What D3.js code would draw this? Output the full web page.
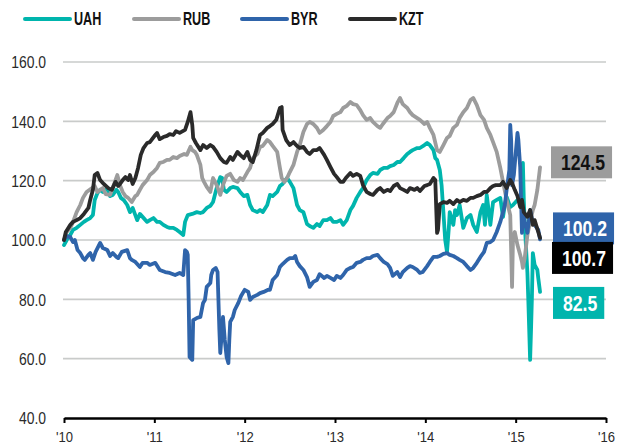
<!DOCTYPE html>
<html>
<head>
    <title>Currency index</title>
    <script src="https://d3js.org/d3.v7.min.js"></script>
    <style>
        body {
            margin: 0;
            background: #fff;
        }
        svg text {
            font-family: "Liberation Sans", Arial, sans-serif;
        }
        .grid line {
            stroke: #c9cbca;
            stroke-width: 1.6px;
        }
        .legend text {
            font-size: 18px;
            font-weight: bold;
            fill: #111;
        }
        .series {
            fill: none;
            stroke-width: 3.8px;
            stroke-linejoin: round;
            stroke-linecap: round;
        }
        .end-label text {
            font-size: 22px;
            font-weight: bold;
        }
    </style>
</head>
<body>
<div id="chart"></div>
<script>
// legend / series names
const currencies = ['UAH', 'RUB', 'BYR', 'KZT'];
const colors = ['#00b5ad', '#9c9c9c', '#2f64aa', '#2a2a2a'];

const yTicks = [40, 60, 80, 100, 120, 140, 160];
const xTicks = [2010, 2011, 2012, 2013, 2014, 2015, 2016];
const xTickLabels = ["'10", "'11", "'12", "'13", "'14", "'15", "'16"];

// [year, index value]
const uahData = [
    [2010.00, 98.3], [2010.03, 100.0], [2010.07, 101.7], [2010.10, 103.4], [2010.14, 104.1],
    [2010.18, 105.1], [2010.22, 106.1], [2010.25, 106.7], [2010.29, 107.4], [2010.32, 108.4],
    [2010.34, 113.5], [2010.37, 115.8], [2010.40, 116.9], [2010.43, 116.2], [2010.48, 117.5],
    [2010.51, 114.8], [2010.54, 115.2], [2010.58, 116.9], [2010.60, 116.2], [2010.63, 114.2],
    [2010.66, 113.5], [2010.70, 111.8], [2010.73, 109.4], [2010.76, 110.8], [2010.81, 106.7],
    [2010.84, 108.8], [2010.87, 107.8], [2010.92, 106.1], [2010.95, 106.7], [2010.99, 107.4],
    [2011.03, 106.1], [2011.06, 106.1], [2011.10, 105.1], [2011.14, 104.4], [2011.17, 104.1],
    [2011.21, 104.1], [2011.25, 103.4], [2011.28, 102.7], [2011.32, 101.7], [2011.34, 106.1],
    [2011.37, 108.4], [2011.42, 108.8], [2011.47, 109.4], [2011.51, 109.1], [2011.54, 109.4],
    [2011.58, 110.8], [2011.62, 111.5], [2011.65, 112.8], [2011.69, 117.5], [2011.73, 121.2],
    [2011.75, 120.9], [2011.77, 116.9], [2011.80, 116.2], [2011.84, 117.5], [2011.87, 117.9],
    [2011.92, 117.5], [2011.95, 116.2], [2011.99, 114.8], [2012.03, 115.2], [2012.06, 111.8],
    [2012.09, 110.1], [2012.14, 109.4], [2012.17, 110.1], [2012.20, 109.4], [2012.25, 111.8],
    [2012.28, 115.2], [2012.31, 114.8], [2012.36, 116.2], [2012.39, 118.2], [2012.42, 118.9],
    [2012.47, 120.9], [2012.50, 119.6], [2012.54, 117.5], [2012.58, 111.8], [2012.61, 110.1],
    [2012.65, 109.4], [2012.69, 105.4], [2012.72, 104.7], [2012.76, 104.1], [2012.80, 105.4],
    [2012.83, 104.7], [2012.87, 106.7], [2012.91, 106.7], [2012.95, 107.4], [2012.98, 106.1],
    [2013.02, 106.1], [2013.06, 106.7], [2013.09, 105.1], [2013.13, 106.7], [2013.17, 110.1],
    [2013.20, 111.5], [2013.24, 114.2], [2013.28, 116.2], [2013.31, 117.5], [2013.35, 120.2],
    [2013.39, 121.9], [2013.42, 122.6], [2013.47, 122.3], [2013.50, 123.6], [2013.54, 124.3],
    [2013.58, 124.3], [2013.61, 124.9], [2013.65, 125.3], [2013.69, 126.3], [2013.72, 126.3],
    [2013.76, 127.6], [2013.80, 129.0], [2013.83, 129.7], [2013.86, 130.3], [2013.91, 131.0],
    [2013.94, 131.0], [2013.99, 132.0], [2014.02, 132.7], [2014.05, 132.0], [2014.09, 130.3],
    [2014.11, 127.6], [2014.13, 127.0], [2014.16, 123.6], [2014.18, 118.5], [2014.20, 109.4],
    [2014.22, 100.0], [2014.24, 96.0], [2014.26, 104.1], [2014.27, 109.4], [2014.31, 105.1],
    [2014.33, 110.1], [2014.35, 108.4], [2014.38, 111.8], [2014.42, 104.1], [2014.46, 107.4],
    [2014.50, 108.4], [2014.53, 105.1], [2014.57, 102.7], [2014.61, 109.4], [2014.64, 111.8],
    [2014.66, 105.1], [2014.68, 115.2], [2014.72, 105.1], [2014.75, 112.8], [2014.79, 113.5],
    [2014.83, 114.2], [2014.86, 107.8], [2014.88, 111.8], [2014.90, 114.5], [2014.94, 111.1],
    [2014.97, 111.8], [2015.02, 113.5], [2015.05, 113.5], [2015.07, 116.9], [2015.08, 126.0],
    [2015.09, 113.5], [2015.10, 105.7], [2015.13, 88.9], [2015.14, 79.8], [2015.16, 59.6],
    [2015.17, 69.7], [2015.18, 80.8], [2015.19, 95.6], [2015.21, 91.6], [2015.24, 89.9],
    [2015.25, 87.2], [2015.27, 82.5]
];

const rubData = [
    [2010.00, 100.0], [2010.03, 102.7], [2010.07, 104.1], [2010.10, 106.1], [2010.14, 109.4],
    [2010.18, 111.8], [2010.21, 114.2], [2010.25, 116.2], [2010.31, 117.5], [2010.34, 118.2],
    [2010.37, 116.2], [2010.40, 116.9], [2010.43, 117.5], [2010.46, 115.5], [2010.51, 115.2],
    [2010.55, 118.5], [2010.59, 121.9], [2010.62, 118.5], [2010.65, 116.2], [2010.68, 114.8],
    [2010.71, 114.2], [2010.75, 112.8], [2010.79, 114.8], [2010.81, 115.2], [2010.84, 116.9],
    [2010.87, 118.5], [2010.92, 120.2], [2010.95, 121.9], [2010.99, 122.9], [2011.03, 124.3],
    [2011.06, 126.0], [2011.10, 126.3], [2011.14, 127.0], [2011.17, 127.0], [2011.21, 128.0],
    [2011.25, 127.6], [2011.28, 128.3], [2011.33, 129.0], [2011.36, 128.7], [2011.40, 131.4],
    [2011.42, 130.3], [2011.45, 129.7], [2011.47, 128.7], [2011.51, 125.3], [2011.53, 120.9],
    [2011.55, 119.6], [2011.58, 117.9], [2011.62, 116.2], [2011.65, 120.9], [2011.69, 118.5],
    [2011.73, 115.2], [2011.76, 118.5], [2011.80, 121.6], [2011.84, 122.3], [2011.88, 120.2],
    [2011.92, 119.6], [2011.95, 120.9], [2011.98, 120.2], [2012.03, 122.9], [2012.06, 124.3],
    [2012.09, 127.6], [2012.14, 129.0], [2012.17, 131.4], [2012.20, 131.7], [2012.25, 133.7],
    [2012.28, 133.0], [2012.31, 131.7], [2012.36, 129.7], [2012.39, 124.3], [2012.41, 120.9],
    [2012.44, 119.6], [2012.47, 120.9], [2012.50, 122.9], [2012.54, 125.3], [2012.58, 129.7],
    [2012.61, 132.0], [2012.65, 136.4], [2012.69, 139.1], [2012.72, 139.8], [2012.76, 139.1],
    [2012.80, 137.8], [2012.83, 136.1], [2012.87, 137.1], [2012.91, 138.4], [2012.95, 139.8],
    [2012.98, 141.8], [2013.02, 142.5], [2013.06, 143.1], [2013.09, 144.5], [2013.13, 145.2],
    [2013.17, 146.5], [2013.20, 145.8], [2013.24, 145.5], [2013.28, 143.8], [2013.31, 142.1],
    [2013.35, 140.5], [2013.39, 141.1], [2013.42, 139.8], [2013.47, 138.4], [2013.50, 137.8],
    [2013.53, 139.1], [2013.58, 141.1], [2013.61, 141.8], [2013.65, 143.1], [2013.69, 146.2],
    [2013.72, 147.9], [2013.75, 145.8], [2013.80, 144.5], [2013.83, 143.1], [2013.86, 142.1],
    [2013.91, 141.1], [2013.94, 140.5], [2013.99, 139.1], [2014.02, 139.8], [2014.05, 137.8],
    [2014.09, 135.4], [2014.13, 130.3], [2014.16, 129.7], [2014.20, 132.0], [2014.24, 134.4],
    [2014.27, 135.1], [2014.31, 137.8], [2014.35, 138.8], [2014.38, 141.1], [2014.42, 143.1],
    [2014.46, 144.5], [2014.50, 147.2], [2014.53, 147.9], [2014.57, 145.5], [2014.61, 142.1],
    [2014.65, 140.5], [2014.68, 137.8], [2014.72, 135.4], [2014.75, 133.0], [2014.79, 129.7],
    [2014.83, 124.3], [2014.86, 119.6], [2014.90, 113.5], [2014.94, 108.4], [2014.95, 96.6],
    [2014.96, 84.2], [2014.97, 100.0], [2014.99, 102.7], [2015.02, 98.3], [2015.05, 95.0],
    [2015.07, 92.6], [2015.08, 90.6], [2015.10, 93.9], [2015.13, 101.7], [2015.16, 106.1],
    [2015.19, 110.1], [2015.21, 111.8], [2015.24, 116.9], [2015.26, 121.9], [2015.27, 124.5]
];

const byrData = [
    [2010.00, 100.0], [2010.03, 101.3], [2010.07, 101.0], [2010.10, 99.3], [2010.12, 100.0],
    [2010.15, 96.6], [2010.18, 95.6], [2010.21, 93.9], [2010.23, 93.3], [2010.27, 95.0],
    [2010.29, 95.6], [2010.32, 93.3], [2010.35, 96.0], [2010.40, 99.0], [2010.43, 97.3],
    [2010.48, 96.6], [2010.51, 94.6], [2010.54, 95.6], [2010.58, 94.3], [2010.60, 93.9],
    [2010.64, 96.0], [2010.70, 96.6], [2010.73, 93.9], [2010.75, 93.3], [2010.79, 92.6],
    [2010.84, 90.9], [2010.87, 92.3], [2010.92, 92.3], [2010.95, 91.6], [2011.01, 92.3],
    [2011.06, 89.9], [2011.12, 89.2], [2011.17, 88.9], [2011.23, 88.2], [2011.28, 88.9],
    [2011.32, 88.2], [2011.34, 96.6], [2011.36, 96.0], [2011.37, 95.0], [2011.38, 79.8],
    [2011.39, 60.6], [2011.42, 59.6], [2011.43, 73.0], [2011.47, 73.7], [2011.51, 74.1],
    [2011.54, 78.8], [2011.56, 79.8], [2011.58, 84.2], [2011.62, 85.5], [2011.63, 88.2],
    [2011.65, 89.9], [2011.68, 90.6], [2011.70, 89.2], [2011.72, 69.7], [2011.73, 61.9],
    [2011.75, 69.7], [2011.76, 74.1], [2011.78, 66.3], [2011.80, 60.6], [2011.82, 58.5],
    [2011.83, 66.3], [2011.84, 72.4], [2011.87, 74.1], [2011.89, 76.4], [2011.93, 78.8],
    [2011.96, 81.1], [2012.00, 83.2], [2012.04, 82.5], [2012.06, 79.8], [2012.09, 80.8],
    [2012.14, 81.5], [2012.17, 82.1], [2012.21, 82.5], [2012.26, 83.2], [2012.28, 83.2],
    [2012.31, 86.5], [2012.36, 88.2], [2012.39, 90.9], [2012.42, 91.9], [2012.47, 93.3],
    [2012.50, 93.9], [2012.54, 93.9], [2012.56, 94.6], [2012.58, 92.6], [2012.61, 91.2],
    [2012.65, 89.9], [2012.69, 87.5], [2012.72, 84.2], [2012.76, 85.9], [2012.80, 86.5],
    [2012.83, 88.5], [2012.88, 87.2], [2012.91, 87.9], [2012.95, 87.2], [2012.99, 86.5],
    [2013.02, 87.9], [2013.06, 87.2], [2013.09, 88.2], [2013.13, 89.9], [2013.17, 90.6],
    [2013.20, 90.9], [2013.24, 92.3], [2013.28, 92.6], [2013.31, 93.3], [2013.35, 93.9],
    [2013.39, 93.9], [2013.42, 94.6], [2013.47, 95.0], [2013.50, 93.9], [2013.54, 92.6],
    [2013.58, 91.9], [2013.61, 90.6], [2013.64, 87.9], [2013.69, 89.2], [2013.72, 87.5],
    [2013.75, 89.2], [2013.80, 90.6], [2013.83, 91.2], [2013.86, 90.9], [2013.91, 89.9],
    [2013.94, 88.9], [2013.97, 89.2], [2014.02, 91.2], [2014.05, 92.6], [2014.09, 94.3],
    [2014.13, 94.3], [2014.16, 94.6], [2014.20, 95.3], [2014.24, 95.6], [2014.27, 95.0],
    [2014.31, 94.6], [2014.35, 93.9], [2014.38, 93.3], [2014.42, 92.6], [2014.46, 91.2],
    [2014.50, 89.9], [2014.53, 90.6], [2014.57, 92.3], [2014.61, 94.3], [2014.65, 96.0],
    [2014.68, 99.0], [2014.72, 99.3], [2014.75, 100.0], [2014.79, 102.7], [2014.83, 106.1],
    [2014.86, 109.4], [2014.88, 111.8], [2014.90, 116.9], [2014.93, 123.6], [2014.94, 138.8],
    [2014.95, 133.7], [2014.96, 118.5], [2014.98, 121.9], [2015.02, 136.1], [2015.03, 133.7],
    [2015.05, 124.6], [2015.07, 102.4], [2015.08, 110.1], [2015.10, 106.1], [2015.13, 102.4],
    [2015.16, 110.1], [2015.19, 105.7], [2015.21, 105.1], [2015.25, 103.4], [2015.27, 100.2]
];

const kztData = [
    [2010.00, 100.0], [2010.02, 102.7], [2010.07, 105.1], [2010.10, 106.1], [2010.14, 106.7],
    [2010.18, 107.4], [2010.22, 108.8], [2010.27, 110.8], [2010.29, 113.5], [2010.32, 116.9],
    [2010.34, 121.9], [2010.37, 122.6], [2010.40, 120.2], [2010.44, 118.9], [2010.49, 117.5],
    [2010.53, 116.9], [2010.57, 119.6], [2010.60, 118.2], [2010.62, 118.9], [2010.65, 120.2],
    [2010.68, 121.2], [2010.71, 120.2], [2010.73, 121.9], [2010.76, 118.9], [2010.79, 120.9],
    [2010.82, 124.3], [2010.85, 128.7], [2010.88, 131.0], [2010.92, 132.7], [2010.95, 133.0],
    [2011.01, 135.4], [2011.03, 136.1], [2011.06, 134.0], [2011.10, 134.7], [2011.14, 135.1],
    [2011.17, 135.7], [2011.21, 135.4], [2011.24, 136.7], [2011.28, 136.1], [2011.34, 137.1],
    [2011.37, 139.8], [2011.40, 143.1], [2011.42, 138.8], [2011.43, 134.4], [2011.46, 132.7],
    [2011.51, 130.3], [2011.54, 132.0], [2011.58, 131.0], [2011.62, 132.0], [2011.65, 131.4],
    [2011.69, 129.7], [2011.73, 127.6], [2011.77, 126.3], [2011.80, 126.0], [2011.84, 128.0],
    [2011.87, 127.0], [2011.92, 129.7], [2011.95, 128.7], [2011.99, 127.6], [2012.03, 129.7],
    [2012.06, 127.0], [2012.09, 126.3], [2012.13, 130.3], [2012.17, 135.4], [2012.20, 136.1],
    [2012.25, 137.8], [2012.28, 138.4], [2012.31, 139.1], [2012.35, 140.5], [2012.39, 144.5],
    [2012.41, 144.8], [2012.42, 137.1], [2012.46, 133.7], [2012.50, 132.0], [2012.54, 133.0],
    [2012.58, 131.7], [2012.61, 131.0], [2012.65, 131.4], [2012.69, 129.7], [2012.72, 129.0],
    [2012.76, 130.3], [2012.80, 130.3], [2012.83, 131.0], [2012.88, 128.7], [2012.91, 127.0],
    [2012.95, 124.6], [2012.99, 122.3], [2013.02, 121.2], [2013.06, 119.6], [2013.09, 119.6],
    [2013.12, 120.9], [2013.17, 122.6], [2013.20, 121.6], [2013.24, 122.3], [2013.28, 121.6],
    [2013.31, 118.5], [2013.35, 116.2], [2013.39, 115.5], [2013.42, 115.2], [2013.47, 116.9],
    [2013.50, 117.5], [2013.54, 116.2], [2013.58, 116.9], [2013.61, 116.5], [2013.65, 118.2],
    [2013.69, 118.9], [2013.72, 117.5], [2013.76, 116.9], [2013.80, 116.2], [2013.83, 117.5],
    [2013.88, 116.9], [2013.91, 117.5], [2013.94, 116.5], [2013.99, 118.2], [2014.02, 118.5],
    [2014.05, 118.9], [2014.09, 120.9], [2014.11, 120.2], [2014.13, 102.4], [2014.14, 103.4],
    [2014.16, 112.1], [2014.20, 112.8], [2014.24, 112.5], [2014.27, 113.2], [2014.31, 112.1],
    [2014.35, 113.5], [2014.38, 112.8], [2014.42, 113.5], [2014.46, 113.2], [2014.50, 114.2],
    [2014.53, 114.2], [2014.57, 114.8], [2014.61, 115.2], [2014.65, 116.2], [2014.68, 116.2],
    [2014.72, 117.5], [2014.75, 118.2], [2014.78, 118.5], [2014.83, 118.5], [2014.86, 119.6],
    [2014.90, 117.5], [2014.94, 120.2], [2014.96, 119.2], [2014.99, 116.9], [2015.02, 114.8],
    [2015.05, 111.1], [2015.07, 113.5], [2015.09, 109.4], [2015.13, 107.8], [2015.16, 110.1],
    [2015.19, 105.1], [2015.21, 106.7], [2015.25, 102.7], [2015.27, 100.7]
];

const seriesData = [uahData, rubData, byrData, kztData];

// squeeze text horizontally (no narrow font installed)
function narrow(sel, k) {
    sel.each(function() {
        const w = this.getComputedTextLength();
        d3.select(this)
            .attr('textLength', w * k)
            .attr('lengthAdjust', 'spacingAndGlyphs');
    });
}

document.addEventListener('DOMContentLoaded', function() {
    const width = 617;
    const height = 445;

    const svg = d3.select('#chart').append('svg')
        .attr('width', width)
        .attr('height', height);

    const xScale = d3.scaleLinear().domain([2010, 2016]).range([64, 606]);
    const yScale = d3.scaleLinear().domain([40, 160]).range([418, 62]);

    // gridlines
    svg.append('g')
        .attr('class', 'grid')
        .selectAll('line')
        .data(yTicks.filter(d => d > 40))
        .enter().append('line')
        .attr('x1', 63)
        .attr('x2', 606)
        .attr('y1', d => yScale(d))
        .attr('y2', d => yScale(d));

    // y labels
    const yAxis = d3.axisLeft(yScale)
        .tickValues(yTicks)
        .tickFormat(d3.format('.1f'))
        .tickSize(0)
        .tickPadding(0);
    const yAxisG = svg.append('g')
        .attr('transform', 'translate(46,0)')
        .call(yAxis);
    yAxisG.select('.domain').remove();
    yAxisG.selectAll('text')
        .attr('fill', '#2a2a2a')
        .attr('dy', '0.36em')
        .style('font-size', '16px')
        .call(narrow, 0.87);

    // x axis
    const xAxis = d3.axisBottom(xScale)
        .tickValues(xTicks)
        .tickFormat((d, i) => xTickLabels[i])
        .tickSizeInner(5)
        .tickSizeOuter(0)
        .tickPadding(9);
    const xAxisG = svg.append('g')
        .attr('transform', `translate(0,${yScale(40)})`)
        .call(xAxis);
    xAxisG.select('.domain')
        .attr('stroke', '#000')
        .attr('stroke-width', 2.6);
    xAxisG.selectAll('.tick line')
        .attr('stroke', '#000')
        .attr('stroke-width', 2);
    xAxisG.selectAll('text')
        .attr('fill', '#2a2a2a')
        .attr('dy', '0.65em')
        .style('font-size', '15px')
        .call(narrow, 0.87);

    // lines
    const line = d3.line()
        .x(d => xScale(d[0]))
        .y(d => yScale(d[1]));

    svg.append('g')
        .selectAll('path')
        .data(seriesData)
        .enter().append('path')
        .attr('class', 'series')
        .attr('stroke', (d, i) => colors[i])
        .attr('d', line);

    // end-of-line value boxes (offsets keep them apart)
    const endLabels = [
        { idx: 1, dy: -5, x: 551, text: '#111', fill: '#9c9c9c' },
        { idx: 2, dy: -11, x: 553, text: '#fff', fill: '#2f64aa' },
        { idx: 3, dy: 20, x: 552, text: '#fff', fill: '#000' },
        { idx: 0, dy: 11, x: 553, text: '#fff', fill: '#00b5ad' }
    ];

    endLabels.forEach(lab => {
        const data = seriesData[lab.idx];
        const last = data[data.length - 1][1];
        const cy = yScale(last) + lab.dy;
        const g = svg.append('g').attr('class', 'end-label');
        const rect = g.append('rect')
            .attr('x', lab.x)
            .attr('y', cy - 16)
            .attr('height', 32)
            .attr('fill', lab.fill);
        const t = g.append('text')
            .attr('x', lab.x + 10)
            .attr('y', cy)
            .attr('dy', '0.36em')
            .attr('fill', lab.text)
            .text(d3.format('.1f')(last));
        const w = t.node().getComputedTextLength() * 0.8;
        t.attr('textLength', w).attr('lengthAdjust', 'spacingAndGlyphs');
        rect.attr('width', Math.min(w + 17, width - lab.x));
    });

    // legend
    const legendX = [25, 134, 242, 350];
    const legend = svg.append('g').attr('class', 'legend');
    const item = legend.selectAll('g')
        .data(currencies)
        .enter().append('g')
        .attr('transform', (d, i) => `translate(${legendX[i]},19)`);
    item.append('line')
        .attr('x1', 0)
        .attr('x2', 45)
        .attr('stroke', (d, i) => colors[i])
        .attr('stroke-width', 4)
        .attr('stroke-linecap', 'round');
    item.append('text')
        .attr('x', 49)
        .attr('dy', '0.36em')
        .text(d => d)
        .call(narrow, 0.7);
});
</script>
</body>
</html>
